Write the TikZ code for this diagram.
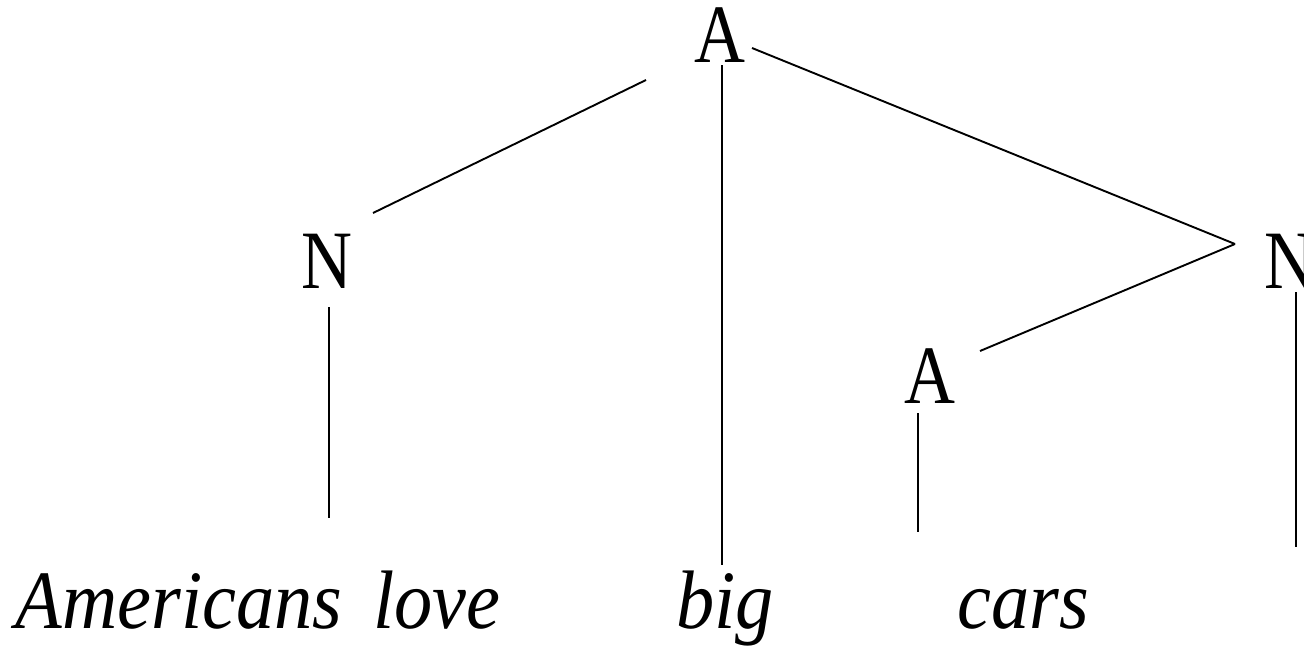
\documentclass[tikz,border=0pt]{standalone}
\usepackage{fontspec}
\setmainfont{Liberation Serif}
\newfontfamily\lblfont{Liberation Serif}[FakeStretch=0.85]
\newfontfamily\wordfont{Liberation Serif}[FakeStretch=0.92]
\begin{document}
\begin{tikzpicture}[x=1pt,y=-1pt,
  lbl/.style={anchor=base,inner sep=0pt,font=\fontsize{83}{96}\lblfont},
  word/.style={anchor=base,inner sep=0pt,font=\fontsize{83}{96}\wordfont\itshape},
  edge/.style={line width=1.9pt,black}]
\useasboundingbox (0,0) rectangle (1304,648);
\node[lbl] (Atop) at (720,62) {A};
\node[lbl] (Nl) at (327,288) {N};
\node[lbl] (Nr) at (1290,288) {N};
\node[lbl] (As) at (930,403) {A};
\node[word] (w1) at (179,628) {Americans};
\node[word] (w2) at (437,628) {love};
\node[word] (w3) at (725,628) {big};
\node[word] (w4) at (1023,628) {cars};
\coordinate (free) at (1296,547);
\draw[edge] ([shift={(-74,18)}]Atop.base) -- ([shift={(46,-75)}]Nl.base);
\draw[edge] ([shift={(2,3)}]Atop.base) -- ([shift={(-3,-63)}]w3.base);
\draw[edge] ([shift={(32,-14)}]Atop.base) -- ([shift={(-55,-44)}]Nr.base);
\draw[edge] ([shift={(-55,-44)}]Nr.base) -- ([shift={(50,-52)}]As.base);
\draw[edge] ([shift={(2,19)}]Nl.base) -- ([shift={(150,-110)}]w1.base);
\draw[edge] ([shift={(-12,10)}]As.base) -- ([shift={(-105,-96)}]w4.base);
\draw[edge] ([shift={(6,4)}]Nr.base) -- (free);
\end{tikzpicture}
\end{document}
